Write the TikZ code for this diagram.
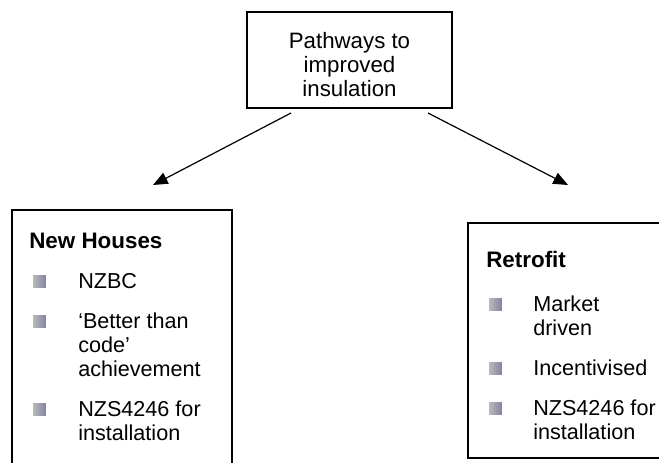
\documentclass[tikz,border=0pt]{standalone}
\usepackage{fontspec}
\setmainfont{Liberation Sans}
\usetikzlibrary{arrows.meta}
\tikzset{
  txt/.style={anchor=base west, align=left, inner sep=0pt, font=\fontsize{16.2}{18}\selectfont},
  head/.style={txt, font=\fontsize{16.8}{18}\selectfont\bfseries},
  bullet/.style={rectangle, inner sep=0pt, minimum width=9.5pt, minimum height=8.5pt,
    left color=gray!55, right color=gray!75!blue!80!black!70},
  panel/.style={draw, line width=0.9pt, inner sep=0pt},
  arr/.style={-{Triangle[length=11pt,width=9pt]}, line width=0.9pt}
}
\begin{document}
\begin{tikzpicture}[x=0.75pt,y=-0.75pt]
      \useasboundingbox (0,0) rectangle (659,462);
      \clip (0,0) rectangle (659,462);
      \node[panel, minimum width=153.75pt, minimum height=72pt] (path) at (349.5,60) {};
      \node[align=center, inner sep=0pt, font=\fontsize{16.7}{18}\selectfont] (pathtxt)
        at (349.5,65) {Pathways to\\improved\\insulation};
      \node[panel, minimum width=165pt, minimum height=198.75pt] (new) at (122,342.5) {};
      \node[panel, minimum width=153pt, minimum height=176.25pt] (retro) at (570,340.5) {};
      \coordinate (s1) at (291,113);
      \coordinate (e1) at (153,185);
      \coordinate (s2) at (428,113);
      \coordinate (e2) at (568,185);
      \begin{scope}[arr]
        \draw (s1) to (e1);
        \draw (s2) to (e2);
      \end{scope}
      \node[head] (newh) at (29,248) {New Houses};
      \node[bullet] (b1) at (39.5,281.5) {};
      \node[bullet] (b2) at (39.5,321.5) {};
      \node[bullet] (b3) at (39.5,409.5) {};
      \node[txt] (nzbc) at (78,288) {NZBC};
      \node[txt] (better) at (78,376) {‘Better than\\code’\\achievement};
      \node[txt] (nzsa) at (78,440) {NZS4246 for\\installation};
      \node[head] (retroh) at (486,267) {Retrofit};
      \node[bullet] (b4) at (495.5,304.5) {};
      \node[bullet] (b5) at (495.5,368.5) {};
      \node[bullet] (b6) at (495.5,408.5) {};
      \node[txt] (market) at (533,335) {Market\\driven};
      \node[txt] (incent) at (533,375) {Incentivised};
      \node[txt] (nzsb) at (533,439) {NZS4246 for\\installation};
    \end{tikzpicture}
\end{document}
